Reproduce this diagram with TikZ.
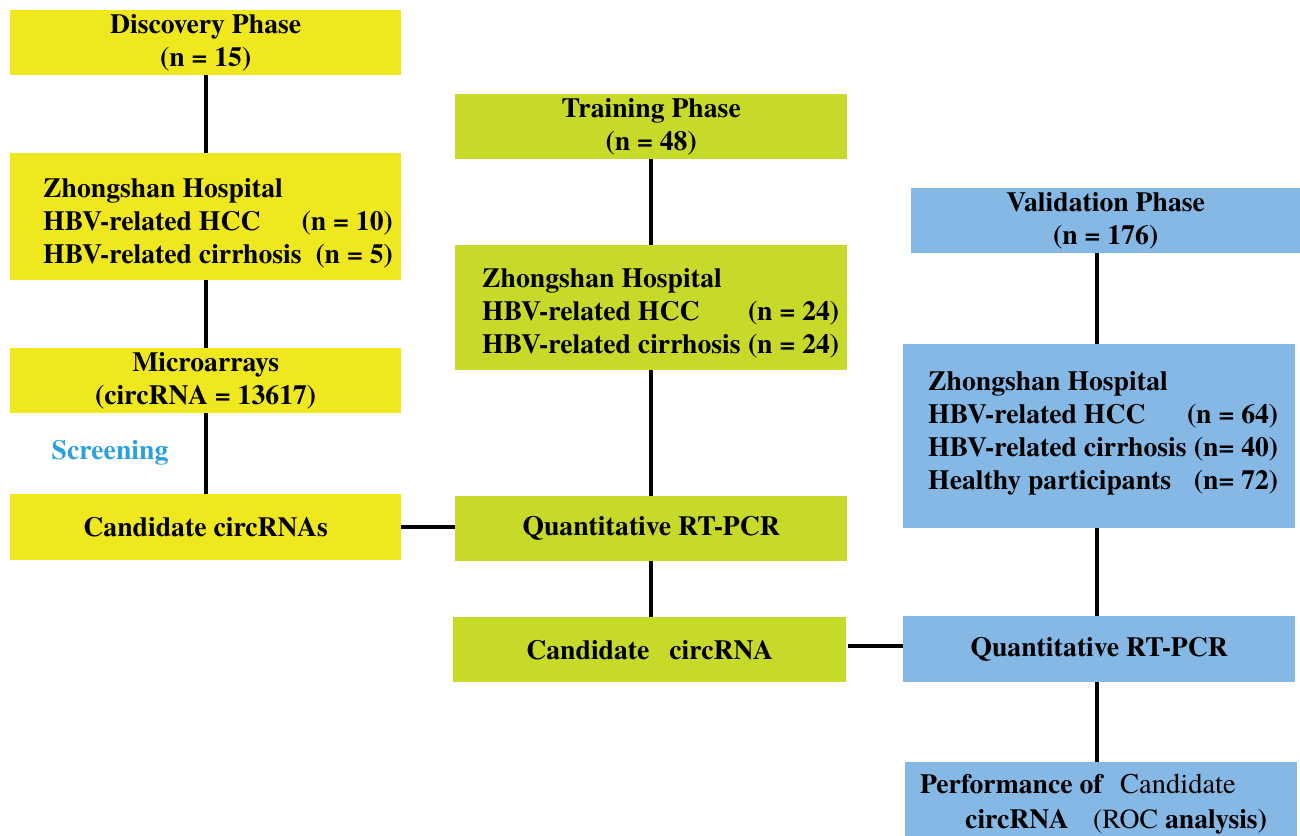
\documentclass[tikz,border=0pt]{standalone}
\usepackage{fontspec}
\IfFontExistsTF{texgyretermes-bold.otf}{%
  \setmainfont{texgyretermes}[Extension=.otf,UprightFont=*-regular,BoldFont=*-bold,ItalicFont=*-italic,BoldItalicFont=*-bolditalic]}{%
  \setmainfont{Liberation Serif}}
\definecolor{cyel}{RGB}{240,232,30}
\definecolor{cgrn}{RGB}{200,217,42}
\definecolor{cblu}{RGB}{133,184,228}
\definecolor{cscr}{RGB}{42,160,220}
\begin{document}
\begin{tikzpicture}[x=1pt,y=-1pt,
  txt/.style={inner sep=0pt,font=\fontsize{27.7}{33}\selectfont\bfseries},
  box/.style={txt,rectangle,draw=none,anchor=north west,align=center},
  ybox/.style={box,fill=cyel},
  gbox/.style={box,fill=cgrn},
  bbox/.style={box,fill=cblu},
  lst/.style={txt,anchor=base west},
  conn/.style={line width=3.6pt,black}]
\useasboundingbox (0,0) rectangle (1300,835);
\clip (0,0) rectangle (1300,835);
% column 1
\node[ybox,minimum width=391pt,minimum height=65pt] (disc) at (10,10) {Discovery Phase\\(n = 15)};
\node[ybox,minimum width=391pt,minimum height=127pt] (zh1) at (10,153) {};
\node[ybox,minimum width=391pt,minimum height=65pt] (mic) at (10,348) {Microarrays\\(circRNA = 13617)};
\node[ybox,minimum width=391pt,minimum height=66pt] (cand) at (10,494) {Candidate circRNAs};
\node[lst] (zh1t) at (43,197) {\begin{tabular*}{345pt}[t]{@{}l@{\extracolsep{\fill}}r@{}}Zhongshan Hospital & \\ HBV-related HCC & (n = 10)\\ HBV-related cirrhosis & (n = 5)\end{tabular*}};
\node[txt,text=cscr] (scr) at (110,453) {Screening};
% column 2
\node[gbox,minimum width=392pt,minimum height=65pt] (trn) at (455,94) {Training Phase\\(n = 48)};
\node[gbox,minimum width=392pt,minimum height=125pt] (zh2) at (455,245) {};
\node[lst] (zh2t) at (482,287) {\begin{tabular*}{357pt}[t]{@{}l@{\extracolsep{\fill}}r@{}}Zhongshan Hospital & \\ HBV-related HCC & (n = 24)\\ HBV-related cirrhosis & (n = 24)\end{tabular*}};
\node[gbox,minimum width=392pt,minimum height=65pt] (q2) at (455,496) {Quantitative RT-PCR};
\node[gbox,minimum width=393pt,minimum height=65pt] (cc) at (453,617) {Candidate\hspace{13pt} circRNA};
% column 3
\node[bbox,minimum width=389pt,minimum height=65pt] (val) at (911,188) {Validation Phase\\(n = 176)};
\node[bbox,minimum width=392pt,minimum height=184pt] (zh3) at (903,344) {};
\node[lst] (zh3t) at (928,390) {\begin{tabular*}{350pt}[t]{@{}l@{\extracolsep{\fill}}r@{}}Zhongshan Hospital & \\ HBV-related HCC & (n = 64)\\ HBV-related cirrhosis & (n= 40)\\ Healthy participants & (n= 72)\end{tabular*}};
\node[bbox,minimum width=392pt,minimum height=66pt] (q3) at (903,616) {Quantitative RT-PCR};
\node[bbox,minimum width=392pt,minimum height=80pt] (perf) at (905,762) {};
\node[lst] (p1a) at (920,793) {Performance of};
\node[lst,font=\fontsize{28.5}{33}\selectfont\mdseries] (p1b) at (1120,793) {Candidate};
\node[lst] (p2a) at (965,828) {circRNA};
\node[lst] (p2b) at (1093,828) {{\mdseries (ROC} analysis)};
% connectors
\draw[conn] (disc.south) -- (zh1.north);
\draw[conn] (zh1.south) -- (mic.north);
\draw[conn] (mic.south) -- (cand.north);
\draw[conn] (cand.east) -- (cand.east -| q2.west);
\draw[conn] (trn.south) -- (zh2.north);
\draw[conn] (zh2.south) -- (q2.north);
\draw[conn] (q2.south) -- (q2.south |- cc.north);
\draw[conn] (cc.east) ++(2,-4) coordinate (cce) -- (cce -| q3.west);
\draw[conn] (val.south -| zh3.north) ++(-2,0) coordinate (vs) -- (vs |- zh3.north);
\draw[conn] (zh3.south) ++(-2,0) coordinate (zs) -- (zs |- q3.north);
\draw[conn] (q3.south) ++(-2,0) coordinate (qs) -- (qs |- perf.north);
\end{tikzpicture}
\end{document}
